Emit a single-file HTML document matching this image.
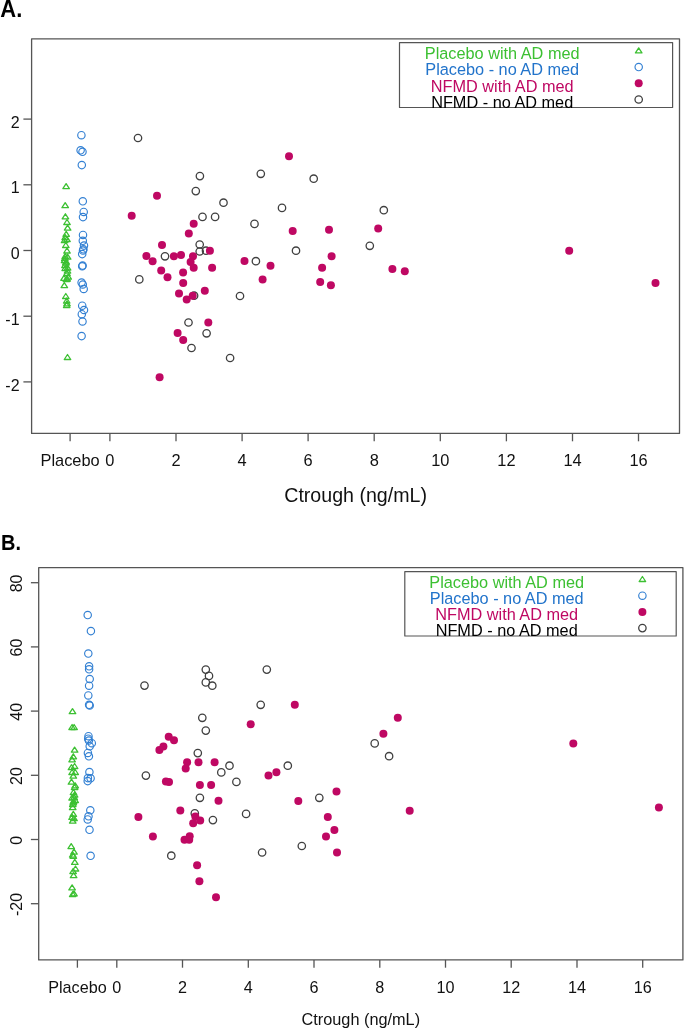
<!DOCTYPE html>
<html><head><meta charset="utf-8"><style>
html,body{margin:0;padding:0;background:#fff;}
svg{display:block;will-change:transform;}
text{font-family:"Liberation Sans", sans-serif;}
</style></head><body>
<svg width="685" height="1030" viewBox="0 0 685 1030">
<rect x="31.6" y="38.8" width="647.9" height="394.6" fill="none" stroke="#555" stroke-width="1.3" stroke-linejoin="round"/>
<line x1="23.4" y1="381.9" x2="31.6" y2="381.9" stroke="#555" stroke-width="1.3"/>
<text x="19.6" y="390.5" font-size="16" text-anchor="end" fill="#111">-2</text>
<line x1="23.4" y1="316.2" x2="31.6" y2="316.2" stroke="#555" stroke-width="1.3"/>
<text x="19.6" y="324.8" font-size="16" text-anchor="end" fill="#111">-1</text>
<line x1="23.4" y1="250.5" x2="31.6" y2="250.5" stroke="#555" stroke-width="1.3"/>
<text x="19.6" y="259.1" font-size="16" text-anchor="end" fill="#111">0</text>
<line x1="23.4" y1="184.8" x2="31.6" y2="184.8" stroke="#555" stroke-width="1.3"/>
<text x="19.6" y="193.4" font-size="16" text-anchor="end" fill="#111">1</text>
<line x1="23.4" y1="119.1" x2="31.6" y2="119.1" stroke="#555" stroke-width="1.3"/>
<text x="19.6" y="127.7" font-size="16" text-anchor="end" fill="#111">2</text>
<line x1="70.1" y1="433.4" x2="70.1" y2="441.3" stroke="#555" stroke-width="1.3"/>
<text x="70.1" y="465.6" font-size="16.4" text-anchor="middle" fill="#111">Placebo</text>
<line x1="109.9" y1="433.4" x2="109.9" y2="441.3" stroke="#555" stroke-width="1.3"/>
<text x="109.9" y="465.6" font-size="16.4" text-anchor="middle" fill="#111">0</text>
<line x1="176.0" y1="433.4" x2="176.0" y2="441.3" stroke="#555" stroke-width="1.3"/>
<text x="176.0" y="465.6" font-size="16.4" text-anchor="middle" fill="#111">2</text>
<line x1="242.1" y1="433.4" x2="242.1" y2="441.3" stroke="#555" stroke-width="1.3"/>
<text x="242.1" y="465.6" font-size="16.4" text-anchor="middle" fill="#111">4</text>
<line x1="308.1" y1="433.4" x2="308.1" y2="441.3" stroke="#555" stroke-width="1.3"/>
<text x="308.1" y="465.6" font-size="16.4" text-anchor="middle" fill="#111">6</text>
<line x1="374.2" y1="433.4" x2="374.2" y2="441.3" stroke="#555" stroke-width="1.3"/>
<text x="374.2" y="465.6" font-size="16.4" text-anchor="middle" fill="#111">8</text>
<line x1="440.3" y1="433.4" x2="440.3" y2="441.3" stroke="#555" stroke-width="1.3"/>
<text x="440.3" y="465.6" font-size="16.4" text-anchor="middle" fill="#111">10</text>
<line x1="506.4" y1="433.4" x2="506.4" y2="441.3" stroke="#555" stroke-width="1.3"/>
<text x="506.4" y="465.6" font-size="16.4" text-anchor="middle" fill="#111">12</text>
<line x1="572.5" y1="433.4" x2="572.5" y2="441.3" stroke="#555" stroke-width="1.3"/>
<text x="572.5" y="465.6" font-size="16.4" text-anchor="middle" fill="#111">14</text>
<line x1="638.5" y1="433.4" x2="638.5" y2="441.3" stroke="#555" stroke-width="1.3"/>
<text x="638.5" y="465.6" font-size="16.4" text-anchor="middle" fill="#111">16</text>
<text x="355.6" y="501.7" font-size="19.6" text-anchor="middle" fill="#111">Ctrough (ng/mL)</text>
<text transform="translate(0.3 16.9) scale(1 1.055)" x="0" y="0" font-size="22" font-weight="bold" fill="#000">A.</text>
<rect x="399.5" y="42.6" width="273.1" height="64.9" fill="none" stroke="#555" stroke-width="1.2" stroke-linejoin="round"/>
<text x="502.2" y="59.10" font-size="16.3" text-anchor="middle" fill="#3cc032">Placebo with AD med</text>
<text x="502.2" y="75.33" font-size="16.3" text-anchor="middle" fill="#2274cb">Placebo - no AD med</text>
<text x="502.2" y="91.56" font-size="16.3" text-anchor="middle" fill="#bf0863">NFMD with AD med</text>
<text x="502.2" y="107.79" font-size="16.3" text-anchor="middle" fill="#000">NFMD - no AD med</text>
<path d="M638.70 47.90L641.95 52.90L635.45 52.90Z" fill="none" stroke="#3cc032" stroke-width="1.3" stroke-linejoin="round"/>
<circle cx="638.7" cy="67.1" r="3.7" fill="none" stroke="#3380d3" stroke-width="1.15"/>
<circle cx="638.7" cy="83.2" r="4.0" fill="#bf0863"/>
<circle cx="638.7" cy="99.5" r="3.7" fill="none" stroke="#404040" stroke-width="1.3"/>
<rect x="38.7" y="567.6" width="644.2" height="392.3" fill="none" stroke="#555" stroke-width="1.3" stroke-linejoin="round"/>
<line x1="30.9" y1="903.7" x2="38.7" y2="903.7" stroke="#555" stroke-width="1.3"/>
<text transform="translate(22.2 904.4) rotate(-90)" x="0" y="0" font-size="16" text-anchor="middle" fill="#111">-20</text>
<line x1="30.9" y1="839.5" x2="38.7" y2="839.5" stroke="#555" stroke-width="1.3"/>
<text transform="translate(22.2 840.2) rotate(-90)" x="0" y="0" font-size="16" text-anchor="middle" fill="#111">0</text>
<line x1="30.9" y1="775.3" x2="38.7" y2="775.3" stroke="#555" stroke-width="1.3"/>
<text transform="translate(22.2 776.0) rotate(-90)" x="0" y="0" font-size="16" text-anchor="middle" fill="#111">20</text>
<line x1="30.9" y1="711.1" x2="38.7" y2="711.1" stroke="#555" stroke-width="1.3"/>
<text transform="translate(22.2 711.8) rotate(-90)" x="0" y="0" font-size="16" text-anchor="middle" fill="#111">40</text>
<line x1="30.9" y1="646.9" x2="38.7" y2="646.9" stroke="#555" stroke-width="1.3"/>
<text transform="translate(22.2 647.6) rotate(-90)" x="0" y="0" font-size="16" text-anchor="middle" fill="#111">60</text>
<line x1="30.9" y1="582.7" x2="38.7" y2="582.7" stroke="#555" stroke-width="1.3"/>
<text transform="translate(22.2 583.4) rotate(-90)" x="0" y="0" font-size="16" text-anchor="middle" fill="#111">80</text>
<line x1="77.4" y1="959.9" x2="77.4" y2="967.7" stroke="#555" stroke-width="1.3"/>
<text x="77.4" y="993.1" font-size="16.2" text-anchor="middle" fill="#111">Placebo</text>
<line x1="116.8" y1="959.9" x2="116.8" y2="967.7" stroke="#555" stroke-width="1.3"/>
<text x="116.8" y="993.1" font-size="16.2" text-anchor="middle" fill="#111">0</text>
<line x1="182.5" y1="959.9" x2="182.5" y2="967.7" stroke="#555" stroke-width="1.3"/>
<text x="182.5" y="993.1" font-size="16.2" text-anchor="middle" fill="#111">2</text>
<line x1="248.3" y1="959.9" x2="248.3" y2="967.7" stroke="#555" stroke-width="1.3"/>
<text x="248.3" y="993.1" font-size="16.2" text-anchor="middle" fill="#111">4</text>
<line x1="314.0" y1="959.9" x2="314.0" y2="967.7" stroke="#555" stroke-width="1.3"/>
<text x="314.0" y="993.1" font-size="16.2" text-anchor="middle" fill="#111">6</text>
<line x1="379.8" y1="959.9" x2="379.8" y2="967.7" stroke="#555" stroke-width="1.3"/>
<text x="379.8" y="993.1" font-size="16.2" text-anchor="middle" fill="#111">8</text>
<line x1="445.5" y1="959.9" x2="445.5" y2="967.7" stroke="#555" stroke-width="1.3"/>
<text x="445.5" y="993.1" font-size="16.2" text-anchor="middle" fill="#111">10</text>
<line x1="511.2" y1="959.9" x2="511.2" y2="967.7" stroke="#555" stroke-width="1.3"/>
<text x="511.2" y="993.1" font-size="16.2" text-anchor="middle" fill="#111">12</text>
<line x1="577.0" y1="959.9" x2="577.0" y2="967.7" stroke="#555" stroke-width="1.3"/>
<text x="577.0" y="993.1" font-size="16.2" text-anchor="middle" fill="#111">14</text>
<line x1="642.7" y1="959.9" x2="642.7" y2="967.7" stroke="#555" stroke-width="1.3"/>
<text x="642.7" y="993.1" font-size="16.2" text-anchor="middle" fill="#111">16</text>
<text x="360.8" y="1025.2" font-size="16.3" text-anchor="middle" fill="#111">Ctrough (ng/mL)</text>
<text transform="translate(1.0 549.8) scale(0.95 1.08)" x="0" y="0" font-size="21" font-weight="bold" fill="#000">B.</text>
<rect x="404.8" y="571.7" width="271.4" height="64.3" fill="none" stroke="#555" stroke-width="1.2" stroke-linejoin="round"/>
<text x="506.7" y="588.20" font-size="16.3" text-anchor="middle" fill="#3cc032">Placebo with AD med</text>
<text x="506.7" y="604.27" font-size="16.3" text-anchor="middle" fill="#2274cb">Placebo - no AD med</text>
<text x="506.7" y="620.34" font-size="16.3" text-anchor="middle" fill="#bf0863">NFMD with AD med</text>
<text x="506.7" y="636.41" font-size="16.3" text-anchor="middle" fill="#000">NFMD - no AD med</text>
<path d="M642.40 576.50L645.65 581.50L639.15 581.50Z" fill="none" stroke="#3cc032" stroke-width="1.3" stroke-linejoin="round"/>
<circle cx="642.4" cy="595.7" r="3.7" fill="none" stroke="#3380d3" stroke-width="1.15"/>
<circle cx="642.4" cy="612.0" r="4.0" fill="#bf0863"/>
<circle cx="642.4" cy="628.1" r="3.7" fill="none" stroke="#404040" stroke-width="1.3"/>
<path d="M66.10 183.60L69.35 188.60L62.85 188.60Z" fill="none" stroke="#3cc032" stroke-width="1.3" stroke-linejoin="round"/>
<path d="M65.20 202.70L68.45 207.70L61.95 207.70Z" fill="none" stroke="#3cc032" stroke-width="1.3" stroke-linejoin="round"/>
<path d="M65.40 213.80L68.65 218.80L62.15 218.80Z" fill="none" stroke="#3cc032" stroke-width="1.3" stroke-linejoin="round"/>
<path d="M67.00 219.50L70.25 224.50L63.75 224.50Z" fill="none" stroke="#3cc032" stroke-width="1.3" stroke-linejoin="round"/>
<path d="M67.60 225.10L70.85 230.10L64.35 230.10Z" fill="none" stroke="#3cc032" stroke-width="1.3" stroke-linejoin="round"/>
<path d="M66.20 231.30L69.45 236.30L62.95 236.30Z" fill="none" stroke="#3cc032" stroke-width="1.3" stroke-linejoin="round"/>
<path d="M65.20 234.60L68.45 239.60L61.95 239.60Z" fill="none" stroke="#3cc032" stroke-width="1.3" stroke-linejoin="round"/>
<path d="M67.00 236.50L70.25 241.50L63.75 241.50Z" fill="none" stroke="#3cc032" stroke-width="1.3" stroke-linejoin="round"/>
<path d="M64.60 237.70L67.85 242.70L61.35 242.70Z" fill="none" stroke="#3cc032" stroke-width="1.3" stroke-linejoin="round"/>
<path d="M65.80 242.50L69.05 247.50L62.55 247.50Z" fill="none" stroke="#3cc032" stroke-width="1.3" stroke-linejoin="round"/>
<path d="M67.00 248.00L70.25 253.00L63.75 253.00Z" fill="none" stroke="#3cc032" stroke-width="1.3" stroke-linejoin="round"/>
<path d="M65.20 253.50L68.45 258.50L61.95 258.50Z" fill="none" stroke="#3cc032" stroke-width="1.3" stroke-linejoin="round"/>
<path d="M67.60 254.10L70.85 259.10L64.35 259.10Z" fill="none" stroke="#3cc032" stroke-width="1.3" stroke-linejoin="round"/>
<path d="M64.60 257.70L67.85 262.70L61.35 262.70Z" fill="none" stroke="#3cc032" stroke-width="1.3" stroke-linejoin="round"/>
<path d="M65.80 260.10L69.05 265.10L62.55 265.10Z" fill="none" stroke="#3cc032" stroke-width="1.3" stroke-linejoin="round"/>
<path d="M67.60 265.00L70.85 270.00L64.35 270.00Z" fill="none" stroke="#3cc032" stroke-width="1.3" stroke-linejoin="round"/>
<path d="M65.20 265.60L68.45 270.60L61.95 270.60Z" fill="none" stroke="#3cc032" stroke-width="1.3" stroke-linejoin="round"/>
<path d="M67.00 270.50L70.25 275.50L63.75 275.50Z" fill="none" stroke="#3cc032" stroke-width="1.3" stroke-linejoin="round"/>
<path d="M68.20 274.10L71.45 279.10L64.95 279.10Z" fill="none" stroke="#3cc032" stroke-width="1.3" stroke-linejoin="round"/>
<path d="M64.00 275.30L67.25 280.30L60.75 280.30Z" fill="none" stroke="#3cc032" stroke-width="1.3" stroke-linejoin="round"/>
<path d="M66.40 276.50L69.65 281.50L63.15 281.50Z" fill="none" stroke="#3cc032" stroke-width="1.3" stroke-linejoin="round"/>
<path d="M64.30 282.60L67.55 287.60L61.05 287.60Z" fill="none" stroke="#3cc032" stroke-width="1.3" stroke-linejoin="round"/>
<path d="M65.80 293.50L69.05 298.50L62.55 298.50Z" fill="none" stroke="#3cc032" stroke-width="1.3" stroke-linejoin="round"/>
<path d="M67.00 300.80L70.25 305.80L63.75 305.80Z" fill="none" stroke="#3cc032" stroke-width="1.3" stroke-linejoin="round"/>
<path d="M66.70 302.50L69.95 307.50L63.45 307.50Z" fill="none" stroke="#3cc032" stroke-width="1.3" stroke-linejoin="round"/>
<path d="M67.50 354.50L70.75 359.50L64.25 359.50Z" fill="none" stroke="#3cc032" stroke-width="1.3" stroke-linejoin="round"/>
<path d="M64.80 255.50L68.05 260.50L61.55 260.50Z" fill="none" stroke="#3cc032" stroke-width="1.3" stroke-linejoin="round"/>
<path d="M66.20 259.00L69.45 264.00L62.95 264.00Z" fill="none" stroke="#3cc032" stroke-width="1.3" stroke-linejoin="round"/>
<path d="M65.00 262.50L68.25 267.50L61.75 267.50Z" fill="none" stroke="#3cc032" stroke-width="1.3" stroke-linejoin="round"/>
<path d="M67.50 268.00L70.75 273.00L64.25 273.00Z" fill="none" stroke="#3cc032" stroke-width="1.3" stroke-linejoin="round"/>
<path d="M67.20 276.00L70.45 281.00L63.95 281.00Z" fill="none" stroke="#3cc032" stroke-width="1.3" stroke-linejoin="round"/>
<path d="M66.70 298.00L69.95 303.00L63.45 303.00Z" fill="none" stroke="#3cc032" stroke-width="1.3" stroke-linejoin="round"/>
<circle cx="81.4" cy="135.2" r="3.7" fill="none" stroke="#3380d3" stroke-width="1.15"/>
<circle cx="80.6" cy="150.3" r="3.7" fill="none" stroke="#3380d3" stroke-width="1.15"/>
<circle cx="82.5" cy="151.8" r="3.7" fill="none" stroke="#3380d3" stroke-width="1.15"/>
<circle cx="81.8" cy="165.1" r="3.7" fill="none" stroke="#3380d3" stroke-width="1.15"/>
<circle cx="82.8" cy="201.3" r="3.7" fill="none" stroke="#3380d3" stroke-width="1.15"/>
<circle cx="83.7" cy="211.9" r="3.7" fill="none" stroke="#3380d3" stroke-width="1.15"/>
<circle cx="83.0" cy="217.1" r="3.7" fill="none" stroke="#3380d3" stroke-width="1.15"/>
<circle cx="83.0" cy="234.9" r="3.7" fill="none" stroke="#3380d3" stroke-width="1.15"/>
<circle cx="82.8" cy="240.8" r="3.7" fill="none" stroke="#3380d3" stroke-width="1.15"/>
<circle cx="84.0" cy="245.6" r="3.7" fill="none" stroke="#3380d3" stroke-width="1.15"/>
<circle cx="83.4" cy="249.3" r="3.7" fill="none" stroke="#3380d3" stroke-width="1.15"/>
<circle cx="83.0" cy="250.5" r="3.7" fill="none" stroke="#3380d3" stroke-width="1.15"/>
<circle cx="82.2" cy="254.1" r="3.7" fill="none" stroke="#3380d3" stroke-width="1.15"/>
<circle cx="82.2" cy="266.3" r="3.7" fill="none" stroke="#3380d3" stroke-width="1.15"/>
<circle cx="82.6" cy="265.6" r="3.7" fill="none" stroke="#3380d3" stroke-width="1.15"/>
<circle cx="81.6" cy="282.6" r="3.7" fill="none" stroke="#3380d3" stroke-width="1.15"/>
<circle cx="82.8" cy="284.5" r="3.7" fill="none" stroke="#3380d3" stroke-width="1.15"/>
<circle cx="83.7" cy="289.0" r="3.7" fill="none" stroke="#3380d3" stroke-width="1.15"/>
<circle cx="82.2" cy="305.7" r="3.7" fill="none" stroke="#3380d3" stroke-width="1.15"/>
<circle cx="84.0" cy="310.0" r="3.7" fill="none" stroke="#3380d3" stroke-width="1.15"/>
<circle cx="81.8" cy="314.2" r="3.7" fill="none" stroke="#3380d3" stroke-width="1.15"/>
<circle cx="82.5" cy="321.5" r="3.7" fill="none" stroke="#3380d3" stroke-width="1.15"/>
<circle cx="81.6" cy="336.1" r="3.7" fill="none" stroke="#3380d3" stroke-width="1.15"/>
<circle cx="138.0" cy="138.0" r="3.7" fill="none" stroke="#404040" stroke-width="1.3"/>
<circle cx="199.9" cy="176.1" r="3.7" fill="none" stroke="#404040" stroke-width="1.3"/>
<circle cx="195.8" cy="191.1" r="3.7" fill="none" stroke="#404040" stroke-width="1.3"/>
<circle cx="223.5" cy="202.7" r="3.7" fill="none" stroke="#404040" stroke-width="1.3"/>
<circle cx="202.5" cy="216.9" r="3.7" fill="none" stroke="#404040" stroke-width="1.3"/>
<circle cx="215.1" cy="216.9" r="3.7" fill="none" stroke="#404040" stroke-width="1.3"/>
<circle cx="199.7" cy="244.5" r="3.7" fill="none" stroke="#404040" stroke-width="1.3"/>
<circle cx="199.7" cy="251.5" r="3.7" fill="none" stroke="#404040" stroke-width="1.3"/>
<circle cx="206.0" cy="250.7" r="3.7" fill="none" stroke="#404040" stroke-width="1.3"/>
<circle cx="165.0" cy="256.3" r="3.7" fill="none" stroke="#404040" stroke-width="1.3"/>
<circle cx="139.3" cy="279.4" r="3.7" fill="none" stroke="#404040" stroke-width="1.3"/>
<circle cx="194.1" cy="295.7" r="3.7" fill="none" stroke="#404040" stroke-width="1.3"/>
<circle cx="188.5" cy="322.5" r="3.7" fill="none" stroke="#404040" stroke-width="1.3"/>
<circle cx="206.6" cy="333.3" r="3.7" fill="none" stroke="#404040" stroke-width="1.3"/>
<circle cx="191.5" cy="348.0" r="3.7" fill="none" stroke="#404040" stroke-width="1.3"/>
<circle cx="230.1" cy="358.0" r="3.7" fill="none" stroke="#404040" stroke-width="1.3"/>
<circle cx="260.8" cy="173.8" r="3.7" fill="none" stroke="#404040" stroke-width="1.3"/>
<circle cx="313.7" cy="178.7" r="3.7" fill="none" stroke="#404040" stroke-width="1.3"/>
<circle cx="282.0" cy="207.9" r="3.7" fill="none" stroke="#404040" stroke-width="1.3"/>
<circle cx="254.5" cy="223.9" r="3.7" fill="none" stroke="#404040" stroke-width="1.3"/>
<circle cx="255.9" cy="261.2" r="3.7" fill="none" stroke="#404040" stroke-width="1.3"/>
<circle cx="296.0" cy="250.7" r="3.7" fill="none" stroke="#404040" stroke-width="1.3"/>
<circle cx="240.0" cy="296.0" r="3.7" fill="none" stroke="#404040" stroke-width="1.3"/>
<circle cx="383.8" cy="210.2" r="3.7" fill="none" stroke="#404040" stroke-width="1.3"/>
<circle cx="369.8" cy="245.8" r="3.7" fill="none" stroke="#404040" stroke-width="1.3"/>
<circle cx="157.0" cy="195.7" r="4.0" fill="#bf0863"/>
<circle cx="131.7" cy="215.8" r="4.0" fill="#bf0863"/>
<circle cx="193.7" cy="223.7" r="4.0" fill="#bf0863"/>
<circle cx="188.8" cy="233.4" r="4.0" fill="#bf0863"/>
<circle cx="162.0" cy="244.9" r="4.0" fill="#bf0863"/>
<circle cx="146.4" cy="255.9" r="4.0" fill="#bf0863"/>
<circle cx="152.6" cy="261.2" r="4.0" fill="#bf0863"/>
<circle cx="173.9" cy="256.3" r="4.0" fill="#bf0863"/>
<circle cx="181.0" cy="255.1" r="4.0" fill="#bf0863"/>
<circle cx="193.0" cy="256.3" r="4.0" fill="#bf0863"/>
<circle cx="190.6" cy="262.1" r="4.0" fill="#bf0863"/>
<circle cx="193.7" cy="267.7" r="4.0" fill="#bf0863"/>
<circle cx="209.9" cy="250.7" r="4.0" fill="#bf0863"/>
<circle cx="212.1" cy="267.7" r="4.0" fill="#bf0863"/>
<circle cx="161.2" cy="270.6" r="4.0" fill="#bf0863"/>
<circle cx="167.5" cy="277.3" r="4.0" fill="#bf0863"/>
<circle cx="183.1" cy="272.4" r="4.0" fill="#bf0863"/>
<circle cx="183.2" cy="282.9" r="4.0" fill="#bf0863"/>
<circle cx="179.0" cy="293.6" r="4.0" fill="#bf0863"/>
<circle cx="186.7" cy="299.6" r="4.0" fill="#bf0863"/>
<circle cx="192.7" cy="295.7" r="4.0" fill="#bf0863"/>
<circle cx="204.8" cy="290.8" r="4.0" fill="#bf0863"/>
<circle cx="208.3" cy="322.5" r="4.0" fill="#bf0863"/>
<circle cx="177.6" cy="333.1" r="4.0" fill="#bf0863"/>
<circle cx="183.2" cy="339.9" r="4.0" fill="#bf0863"/>
<circle cx="159.6" cy="377.3" r="4.0" fill="#bf0863"/>
<circle cx="289.0" cy="156.3" r="4.0" fill="#bf0863"/>
<circle cx="292.7" cy="230.9" r="4.0" fill="#bf0863"/>
<circle cx="329.0" cy="229.8" r="4.0" fill="#bf0863"/>
<circle cx="244.5" cy="261.0" r="4.0" fill="#bf0863"/>
<circle cx="270.5" cy="265.7" r="4.0" fill="#bf0863"/>
<circle cx="262.6" cy="279.4" r="4.0" fill="#bf0863"/>
<circle cx="331.6" cy="256.3" r="4.0" fill="#bf0863"/>
<circle cx="322.1" cy="267.7" r="4.0" fill="#bf0863"/>
<circle cx="320.2" cy="282.0" r="4.0" fill="#bf0863"/>
<circle cx="330.9" cy="285.2" r="4.0" fill="#bf0863"/>
<circle cx="378.2" cy="228.6" r="4.0" fill="#bf0863"/>
<circle cx="392.4" cy="268.9" r="4.0" fill="#bf0863"/>
<circle cx="404.8" cy="271.3" r="4.0" fill="#bf0863"/>
<circle cx="569.2" cy="250.7" r="4.0" fill="#bf0863"/>
<circle cx="655.5" cy="282.9" r="4.0" fill="#bf0863"/>
<path d="M72.50 708.70L75.75 713.70L69.25 713.70Z" fill="none" stroke="#3cc032" stroke-width="1.3" stroke-linejoin="round"/>
<path d="M72.10 724.50L75.35 729.50L68.85 729.50Z" fill="none" stroke="#3cc032" stroke-width="1.3" stroke-linejoin="round"/>
<path d="M74.10 724.50L77.35 729.50L70.85 729.50Z" fill="none" stroke="#3cc032" stroke-width="1.3" stroke-linejoin="round"/>
<path d="M74.60 747.10L77.85 752.10L71.35 752.10Z" fill="none" stroke="#3cc032" stroke-width="1.3" stroke-linejoin="round"/>
<path d="M73.30 753.80L76.55 758.80L70.05 758.80Z" fill="none" stroke="#3cc032" stroke-width="1.3" stroke-linejoin="round"/>
<path d="M72.10 756.80L75.35 761.80L68.85 761.80Z" fill="none" stroke="#3cc032" stroke-width="1.3" stroke-linejoin="round"/>
<path d="M74.60 763.50L77.85 768.50L71.35 768.50Z" fill="none" stroke="#3cc032" stroke-width="1.3" stroke-linejoin="round"/>
<path d="M71.50 764.70L74.75 769.70L68.25 769.70Z" fill="none" stroke="#3cc032" stroke-width="1.3" stroke-linejoin="round"/>
<path d="M75.20 769.50L78.45 774.50L71.95 774.50Z" fill="none" stroke="#3cc032" stroke-width="1.3" stroke-linejoin="round"/>
<path d="M72.10 769.50L75.35 774.50L68.85 774.50Z" fill="none" stroke="#3cc032" stroke-width="1.3" stroke-linejoin="round"/>
<path d="M73.30 773.20L76.55 778.20L70.05 778.20Z" fill="none" stroke="#3cc032" stroke-width="1.3" stroke-linejoin="round"/>
<path d="M71.50 779.20L74.75 784.20L68.25 784.20Z" fill="none" stroke="#3cc032" stroke-width="1.3" stroke-linejoin="round"/>
<path d="M75.20 782.90L78.45 787.90L71.95 787.90Z" fill="none" stroke="#3cc032" stroke-width="1.3" stroke-linejoin="round"/>
<path d="M74.60 792.00L77.85 797.00L71.35 797.00Z" fill="none" stroke="#3cc032" stroke-width="1.3" stroke-linejoin="round"/>
<path d="M72.10 795.00L75.35 800.00L68.85 800.00Z" fill="none" stroke="#3cc032" stroke-width="1.3" stroke-linejoin="round"/>
<path d="M75.20 797.50L78.45 802.50L71.95 802.50Z" fill="none" stroke="#3cc032" stroke-width="1.3" stroke-linejoin="round"/>
<path d="M73.30 799.90L76.55 804.90L70.05 804.90Z" fill="none" stroke="#3cc032" stroke-width="1.3" stroke-linejoin="round"/>
<path d="M72.70 804.70L75.95 809.70L69.45 809.70Z" fill="none" stroke="#3cc032" stroke-width="1.3" stroke-linejoin="round"/>
<path d="M73.30 811.40L76.55 816.40L70.05 816.40Z" fill="none" stroke="#3cc032" stroke-width="1.3" stroke-linejoin="round"/>
<path d="M72.10 814.40L75.35 819.40L68.85 819.40Z" fill="none" stroke="#3cc032" stroke-width="1.3" stroke-linejoin="round"/>
<path d="M74.00 815.70L77.25 820.70L70.75 820.70Z" fill="none" stroke="#3cc032" stroke-width="1.3" stroke-linejoin="round"/>
<path d="M72.70 818.10L75.95 823.10L69.45 823.10Z" fill="none" stroke="#3cc032" stroke-width="1.3" stroke-linejoin="round"/>
<path d="M71.20 843.60L74.45 848.60L67.95 848.60Z" fill="none" stroke="#3cc032" stroke-width="1.3" stroke-linejoin="round"/>
<path d="M74.00 849.10L77.25 854.10L70.75 854.10Z" fill="none" stroke="#3cc032" stroke-width="1.3" stroke-linejoin="round"/>
<path d="M72.70 852.10L75.95 857.10L69.45 857.10Z" fill="none" stroke="#3cc032" stroke-width="1.3" stroke-linejoin="round"/>
<path d="M73.30 853.30L76.55 858.30L70.05 858.30Z" fill="none" stroke="#3cc032" stroke-width="1.3" stroke-linejoin="round"/>
<path d="M74.80 859.40L78.05 864.40L71.55 864.40Z" fill="none" stroke="#3cc032" stroke-width="1.3" stroke-linejoin="round"/>
<path d="M75.50 866.00L78.75 871.00L72.25 871.00Z" fill="none" stroke="#3cc032" stroke-width="1.3" stroke-linejoin="round"/>
<path d="M73.10 868.50L76.35 873.50L69.85 873.50Z" fill="none" stroke="#3cc032" stroke-width="1.3" stroke-linejoin="round"/>
<path d="M73.60 872.70L76.85 877.70L70.35 877.70Z" fill="none" stroke="#3cc032" stroke-width="1.3" stroke-linejoin="round"/>
<path d="M72.10 884.90L75.35 889.90L68.85 889.90Z" fill="none" stroke="#3cc032" stroke-width="1.3" stroke-linejoin="round"/>
<path d="M74.00 890.90L77.25 895.90L70.75 895.90Z" fill="none" stroke="#3cc032" stroke-width="1.3" stroke-linejoin="round"/>
<path d="M72.70 891.50L75.95 896.50L69.45 896.50Z" fill="none" stroke="#3cc032" stroke-width="1.3" stroke-linejoin="round"/>
<path d="M74.60 784.50L77.85 789.50L71.35 789.50Z" fill="none" stroke="#3cc032" stroke-width="1.3" stroke-linejoin="round"/>
<path d="M73.50 789.50L76.75 794.50L70.25 794.50Z" fill="none" stroke="#3cc032" stroke-width="1.3" stroke-linejoin="round"/>
<path d="M74.20 794.50L77.45 799.50L70.95 799.50Z" fill="none" stroke="#3cc032" stroke-width="1.3" stroke-linejoin="round"/>
<path d="M73.50 798.50L76.75 803.50L70.25 803.50Z" fill="none" stroke="#3cc032" stroke-width="1.3" stroke-linejoin="round"/>
<path d="M72.80 801.50L76.05 806.50L69.55 806.50Z" fill="none" stroke="#3cc032" stroke-width="1.3" stroke-linejoin="round"/>
<circle cx="87.7" cy="615.0" r="3.7" fill="none" stroke="#3380d3" stroke-width="1.15"/>
<circle cx="90.9" cy="631.1" r="3.7" fill="none" stroke="#3380d3" stroke-width="1.15"/>
<circle cx="88.3" cy="653.5" r="3.7" fill="none" stroke="#3380d3" stroke-width="1.15"/>
<circle cx="89.1" cy="666.3" r="3.7" fill="none" stroke="#3380d3" stroke-width="1.15"/>
<circle cx="89.1" cy="669.3" r="3.7" fill="none" stroke="#3380d3" stroke-width="1.15"/>
<circle cx="89.7" cy="679.0" r="3.7" fill="none" stroke="#3380d3" stroke-width="1.15"/>
<circle cx="89.1" cy="685.7" r="3.7" fill="none" stroke="#3380d3" stroke-width="1.15"/>
<circle cx="88.3" cy="695.4" r="3.7" fill="none" stroke="#3380d3" stroke-width="1.15"/>
<circle cx="89.1" cy="704.8" r="3.7" fill="none" stroke="#3380d3" stroke-width="1.15"/>
<circle cx="89.7" cy="705.5" r="3.7" fill="none" stroke="#3380d3" stroke-width="1.15"/>
<circle cx="88.5" cy="736.2" r="3.7" fill="none" stroke="#3380d3" stroke-width="1.15"/>
<circle cx="88.2" cy="738.7" r="3.7" fill="none" stroke="#3380d3" stroke-width="1.15"/>
<circle cx="88.9" cy="740.5" r="3.7" fill="none" stroke="#3380d3" stroke-width="1.15"/>
<circle cx="91.8" cy="743.2" r="3.7" fill="none" stroke="#3380d3" stroke-width="1.15"/>
<circle cx="89.7" cy="746.3" r="3.7" fill="none" stroke="#3380d3" stroke-width="1.15"/>
<circle cx="87.9" cy="752.9" r="3.7" fill="none" stroke="#3380d3" stroke-width="1.15"/>
<circle cx="88.9" cy="756.3" r="3.7" fill="none" stroke="#3380d3" stroke-width="1.15"/>
<circle cx="89.4" cy="772.0" r="3.7" fill="none" stroke="#3380d3" stroke-width="1.15"/>
<circle cx="87.9" cy="778.1" r="3.7" fill="none" stroke="#3380d3" stroke-width="1.15"/>
<circle cx="90.6" cy="778.3" r="3.7" fill="none" stroke="#3380d3" stroke-width="1.15"/>
<circle cx="87.7" cy="781.1" r="3.7" fill="none" stroke="#3380d3" stroke-width="1.15"/>
<circle cx="90.3" cy="810.3" r="3.7" fill="none" stroke="#3380d3" stroke-width="1.15"/>
<circle cx="88.5" cy="816.3" r="3.7" fill="none" stroke="#3380d3" stroke-width="1.15"/>
<circle cx="87.7" cy="819.4" r="3.7" fill="none" stroke="#3380d3" stroke-width="1.15"/>
<circle cx="89.5" cy="829.8" r="3.7" fill="none" stroke="#3380d3" stroke-width="1.15"/>
<circle cx="90.6" cy="855.8" r="3.7" fill="none" stroke="#3380d3" stroke-width="1.15"/>
<circle cx="144.5" cy="685.6" r="3.7" fill="none" stroke="#404040" stroke-width="1.3"/>
<circle cx="205.8" cy="669.6" r="3.7" fill="none" stroke="#404040" stroke-width="1.3"/>
<circle cx="209.0" cy="675.9" r="3.7" fill="none" stroke="#404040" stroke-width="1.3"/>
<circle cx="205.8" cy="682.4" r="3.7" fill="none" stroke="#404040" stroke-width="1.3"/>
<circle cx="212.3" cy="685.7" r="3.7" fill="none" stroke="#404040" stroke-width="1.3"/>
<circle cx="202.3" cy="717.8" r="3.7" fill="none" stroke="#404040" stroke-width="1.3"/>
<circle cx="205.8" cy="730.6" r="3.7" fill="none" stroke="#404040" stroke-width="1.3"/>
<circle cx="197.8" cy="753.1" r="3.7" fill="none" stroke="#404040" stroke-width="1.3"/>
<circle cx="229.5" cy="765.7" r="3.7" fill="none" stroke="#404040" stroke-width="1.3"/>
<circle cx="221.3" cy="772.4" r="3.7" fill="none" stroke="#404040" stroke-width="1.3"/>
<circle cx="236.4" cy="781.9" r="3.7" fill="none" stroke="#404040" stroke-width="1.3"/>
<circle cx="145.9" cy="775.6" r="3.7" fill="none" stroke="#404040" stroke-width="1.3"/>
<circle cx="199.9" cy="797.8" r="3.7" fill="none" stroke="#404040" stroke-width="1.3"/>
<circle cx="194.8" cy="813.4" r="3.7" fill="none" stroke="#404040" stroke-width="1.3"/>
<circle cx="212.9" cy="820.1" r="3.7" fill="none" stroke="#404040" stroke-width="1.3"/>
<circle cx="171.3" cy="855.7" r="3.7" fill="none" stroke="#404040" stroke-width="1.3"/>
<circle cx="266.8" cy="669.6" r="3.7" fill="none" stroke="#404040" stroke-width="1.3"/>
<circle cx="260.7" cy="704.8" r="3.7" fill="none" stroke="#404040" stroke-width="1.3"/>
<circle cx="287.8" cy="765.7" r="3.7" fill="none" stroke="#404040" stroke-width="1.3"/>
<circle cx="319.3" cy="797.8" r="3.7" fill="none" stroke="#404040" stroke-width="1.3"/>
<circle cx="246.1" cy="813.9" r="3.7" fill="none" stroke="#404040" stroke-width="1.3"/>
<circle cx="301.8" cy="846.0" r="3.7" fill="none" stroke="#404040" stroke-width="1.3"/>
<circle cx="262.1" cy="852.5" r="3.7" fill="none" stroke="#404040" stroke-width="1.3"/>
<circle cx="374.7" cy="743.4" r="3.7" fill="none" stroke="#404040" stroke-width="1.3"/>
<circle cx="389.1" cy="756.2" r="3.7" fill="none" stroke="#404040" stroke-width="1.3"/>
<circle cx="168.7" cy="736.7" r="4.0" fill="#bf0863"/>
<circle cx="174.0" cy="740.2" r="4.0" fill="#bf0863"/>
<circle cx="163.4" cy="746.4" r="4.0" fill="#bf0863"/>
<circle cx="159.4" cy="750.0" r="4.0" fill="#bf0863"/>
<circle cx="187.1" cy="762.3" r="4.0" fill="#bf0863"/>
<circle cx="198.5" cy="762.3" r="4.0" fill="#bf0863"/>
<circle cx="214.6" cy="762.3" r="4.0" fill="#bf0863"/>
<circle cx="185.7" cy="768.6" r="4.0" fill="#bf0863"/>
<circle cx="165.9" cy="781.5" r="4.0" fill="#bf0863"/>
<circle cx="169.0" cy="781.9" r="4.0" fill="#bf0863"/>
<circle cx="199.9" cy="785.0" r="4.0" fill="#bf0863"/>
<circle cx="211.1" cy="785.0" r="4.0" fill="#bf0863"/>
<circle cx="218.5" cy="800.8" r="4.0" fill="#bf0863"/>
<circle cx="180.3" cy="810.6" r="4.0" fill="#bf0863"/>
<circle cx="138.4" cy="816.9" r="4.0" fill="#bf0863"/>
<circle cx="195.3" cy="816.6" r="4.0" fill="#bf0863"/>
<circle cx="200.2" cy="820.4" r="4.0" fill="#bf0863"/>
<circle cx="193.2" cy="823.2" r="4.0" fill="#bf0863"/>
<circle cx="152.9" cy="836.4" r="4.0" fill="#bf0863"/>
<circle cx="189.7" cy="836.2" r="4.0" fill="#bf0863"/>
<circle cx="184.5" cy="839.7" r="4.0" fill="#bf0863"/>
<circle cx="189.2" cy="839.7" r="4.0" fill="#bf0863"/>
<circle cx="197.1" cy="865.3" r="4.0" fill="#bf0863"/>
<circle cx="199.4" cy="881.2" r="4.0" fill="#bf0863"/>
<circle cx="216.0" cy="897.3" r="4.0" fill="#bf0863"/>
<circle cx="294.8" cy="704.8" r="4.0" fill="#bf0863"/>
<circle cx="250.7" cy="724.3" r="4.0" fill="#bf0863"/>
<circle cx="268.5" cy="775.6" r="4.0" fill="#bf0863"/>
<circle cx="276.4" cy="772.2" r="4.0" fill="#bf0863"/>
<circle cx="336.5" cy="791.5" r="4.0" fill="#bf0863"/>
<circle cx="298.3" cy="801.0" r="4.0" fill="#bf0863"/>
<circle cx="327.8" cy="817.1" r="4.0" fill="#bf0863"/>
<circle cx="334.4" cy="829.9" r="4.0" fill="#bf0863"/>
<circle cx="326.0" cy="836.4" r="4.0" fill="#bf0863"/>
<circle cx="337.0" cy="852.5" r="4.0" fill="#bf0863"/>
<circle cx="397.8" cy="717.8" r="4.0" fill="#bf0863"/>
<circle cx="383.4" cy="733.7" r="4.0" fill="#bf0863"/>
<circle cx="409.7" cy="810.8" r="4.0" fill="#bf0863"/>
<circle cx="573.3" cy="743.5" r="4.0" fill="#bf0863"/>
<circle cx="658.9" cy="807.5" r="4.0" fill="#bf0863"/>
</svg>
</body></html>
